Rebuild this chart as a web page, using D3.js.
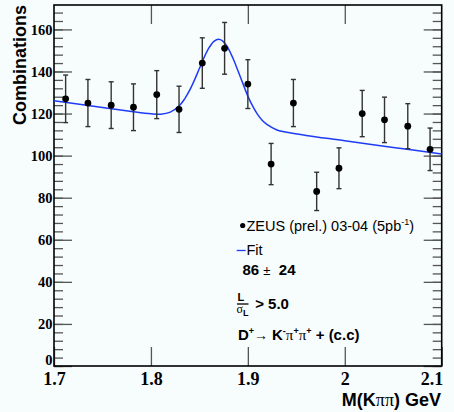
<!DOCTYPE html>
<html>
<head>
<meta charset="utf-8">
<script src="https://cdn.jsdelivr.net/npm/d3@7/dist/d3.min.js"></script>
<style>
html,body{margin:0;padding:0;background:#f7fcfd;}
svg{display:block;}
text{white-space:pre;}
</style>
</head>
<body>
<script>
// ---- data ----
const binCenters = [1.712,1.735,1.759,1.782,1.806,1.829,1.853,1.876,1.900,1.924,1.947,1.971,1.994,2.018,2.041,2.065,2.088];
const counts     = [127,125,124,123,129,122,144,151,134,96,125,83,94,120,117,114,103];
const errors     = [11.3,11.2,11.1,11.1,11.4,11.0,12.0,12.3,11.6,9.8,11.2,9.1,9.7,11.0,10.8,10.7,10.1];
const fitX = [1.70,1.75,1.78,1.80,1.81,1.82,1.83,1.835,1.84,1.845,1.85,1.855,1.86,1.865,1.87,1.875,1.88,1.885,1.89,1.895,1.90,1.905,1.91,1.915,1.92,1.93,1.94,1.96,2.00,2.05,2.10];
const fitY = [126.1,122.9,121.0,119.9,119.7,120.7,124.1,127.1,131.1,136.0,141.4,146.8,151.3,154.3,155.3,154.1,150.8,145.9,140.1,134.1,128.3,123.5,119.6,116.7,114.7,112.2,111.1,109.6,107.1,103.9,100.8];
const xTicks = [1.7,1.8,1.9,2.0,2.1];
const yMajor = [0,20,40,60,80,100,120,140,160];
const yMinor = d3.range(0,172,4);

const SERIF = "'Liberation Serif','Times New Roman','DejaVu Serif',serif";
const SANS = "'Liberation Sans', Arial, Helvetica, sans-serif";

const W = 454, H = 412;
const svg = d3.select("body").append("svg").attr("width",W).attr("height",H);
svg.append("rect").attr("width",W).attr("height",H).attr("fill","#f7fcfd");

const x = d3.scaleLinear().domain([1.7,2.1]).range([54,441.7]);
const y = d3.scaleLinear().domain([0,171.6]).range([366,5]);
const tickCol = "#555";

// left axis: minor, major
const gL = svg.append("g").attr("transform","translate(54,0)");
gL.call(d3.axisLeft(y).tickValues(yMinor).tickSizeInner(-9).tickSizeOuter(0).tickFormat(""));
gL.append("g").call(d3.axisLeft(y).tickValues(yMajor).tickSizeInner(-18).tickSizeOuter(0).tickPadding(1.5).tickFormat(d3.format("d")));
gL.selectAll(".domain").remove();
gL.selectAll("line").attr("stroke",tickCol).attr("stroke-width",1.3);
gL.selectAll("text").style("font-family",SERIF).style("font-weight","bold").style("font-size","14.5px").attr("fill","#000");
gL.selectAll(".tick").filter(d => d === 0).select("text").attr("dy","-0.1em");

// right axis mirror
const gR = svg.append("g").attr("transform","translate(441.7,0)");
gR.call(d3.axisRight(y).tickValues(yMinor).tickSizeInner(-9).tickSizeOuter(0).tickFormat(""));
gR.append("g").call(d3.axisRight(y).tickValues(yMajor).tickSizeInner(-18).tickSizeOuter(0).tickFormat(""));
gR.selectAll(".domain").remove();
gR.selectAll("line").attr("stroke",tickCol).attr("stroke-width",1.3);

// bottom axis
const gB = svg.append("g").attr("transform","translate(0,366)");
gB.call(d3.axisBottom(x).tickValues(xTicks).tickSizeInner(-19).tickSizeOuter(0).tickPadding(6).tickFormat(d3.format("~g")));
gB.selectAll(".domain").remove();
gB.selectAll("line").attr("stroke",tickCol).attr("stroke-width",1.3);
gB.selectAll("text").style("font-family",SERIF).style("font-weight","bold").style("font-size","18px").attr("fill","#000");
gB.selectAll(".tick").filter(d => d === 2.1).select("text").attr("text-anchor","end").attr("x",1);

// top axis
const gT = svg.append("g").attr("transform","translate(0,5)");
gT.call(d3.axisTop(x).tickValues(xTicks.slice(1,-1)).tickSizeInner(-19).tickSizeOuter(0).tickFormat(""));
gT.selectAll(".domain").remove();
gT.selectAll("line").attr("stroke",tickCol).attr("stroke-width",1.3);

// frame
svg.append("rect").attr("x",54).attr("y",5).attr("width",441.7-54).attr("height",361)
  .attr("fill","none").attr("stroke","#000").attr("stroke-width",1.6);

// fit curve
const line = d3.line().x((d,i)=>x(fitX[i])).y(d=>y(d)).curve(d3.curveCatmullRom.alpha(0.5));
svg.append("path").datum(fitY).attr("d",line).attr("fill","none").attr("stroke","#1f3cf5").attr("stroke-width",1.5);

// error bars
const pts = svg.append("g");
binCenters.forEach((c,i)=>{
  const g = pts.append("g").attr("stroke","#333").attr("stroke-width",1.4);
  g.append("line").attr("x1",x(c)).attr("x2",x(c)).attr("y1",y(counts[i]-errors[i])).attr("y2",y(counts[i]+errors[i]));
  g.append("line").attr("x1",x(c)-2.5).attr("x2",x(c)+2.5).attr("y1",y(counts[i]-errors[i])).attr("y2",y(counts[i]-errors[i]));
  g.append("line").attr("x1",x(c)-2.5).attr("x2",x(c)+2.5).attr("y1",y(counts[i]+errors[i])).attr("y2",y(counts[i]+errors[i]));
});
pts.selectAll("circle").data(counts).join("circle")
  .attr("cx",(d,i)=>x(binCenters[i])).attr("cy",d=>y(d)).attr("r",3.4).attr("fill","#000");

// axis titles
svg.append("text").attr("transform","translate(26,5) rotate(-90)").attr("text-anchor","end")
  .style("font-family",SANS).style("font-weight","bold").style("font-size","18px").text("Combinations");
const xt = svg.append("text").attr("x",441).attr("y",406).attr("text-anchor","end")
  .style("font-family",SANS).style("font-weight","bold").style("font-size","18px");
xt.append("tspan").text("M(K");
xt.append("tspan").style("font-family",SERIF).style("font-weight","normal").text("ππ");
xt.append("tspan").text(") GeV");

// legend
svg.append("circle").attr("cx",242.7).attr("cy",225.5).attr("r",2.6).attr("fill","#000");
const l1 = svg.append("text").attr("x",246.5).attr("y",230.5).style("font-family",SANS).style("font-size","14.5px");
l1.append("tspan").text("ZEUS (prel.) 03-04 (5pb");
l1.append("tspan").style("font-size","9px").attr("dy",-6).text("-1");
l1.append("tspan").attr("dy",6).text(")");

svg.append("line").attr("x1",236.7).attr("x2",245.7).attr("y1",250.5).attr("y2",250.5).attr("stroke","#1f3cf5").attr("stroke-width",1.3);
svg.append("text").attr("x",246.5).attr("y",254.5).style("font-family",SANS).style("font-size","14.5px").text("Fit");

const l3 = svg.append("text").attr("x",242.5).attr("y",275).style("font-family",SANS).style("font-weight","bold").style("font-size","15px");
l3.append("tspan").text("86 ");
l3.append("tspan").style("font-weight","normal").style("font-size","13px").text("±");
l3.append("tspan").text("  24");

// L / sigma_L
svg.append("text").attr("x",237.5).attr("y",300.5).style("font-family",SANS).style("font-weight","bold").style("font-size","11px").text("L");
svg.append("line").attr("x1",237).attr("x2",248.5).attr("y1",304).attr("y2",304).attr("stroke","#000").attr("stroke-width",1.3);
const sg = svg.append("text").attr("x",236.5).attr("y",313).style("font-size","12px");
sg.append("tspan").style("font-family",SERIF).text("σ");
sg.append("tspan").style("font-family",SANS).style("font-weight","bold").style("font-size","9px").attr("dy",2.5).text("L");
svg.append("text").attr("x",251).attr("y",308.5).style("font-family",SANS).style("font-weight","bold").style("font-size","15px").text(" > 5.0");

const l5 = svg.append("text").attr("x",238).attr("y",339.5).style("font-family",SANS).style("font-weight","bold").style("font-size","15px");
l5.append("tspan").text("D");
l5.append("tspan").style("font-size","9px").attr("dy",-6).text("+");
l5.append("tspan").style("font-weight","normal").style("font-size","14px").attr("dy",6).text("→ ");
l5.append("tspan").text("K");
l5.append("tspan").style("font-size","9px").attr("dy",-6).text("-");
l5.append("tspan").style("font-family",SERIF).style("font-weight","normal").attr("dy",6).text("π");
l5.append("tspan").style("font-size","9px").attr("dy",-6).text("+");
l5.append("tspan").style("font-family",SERIF).style("font-weight","normal").attr("dy",6).text("π");
l5.append("tspan").style("font-size","9px").attr("dy",-6).text("+");
l5.append("tspan").attr("dy",6).text(" + (c.c)");
</script>
</body>
</html>
